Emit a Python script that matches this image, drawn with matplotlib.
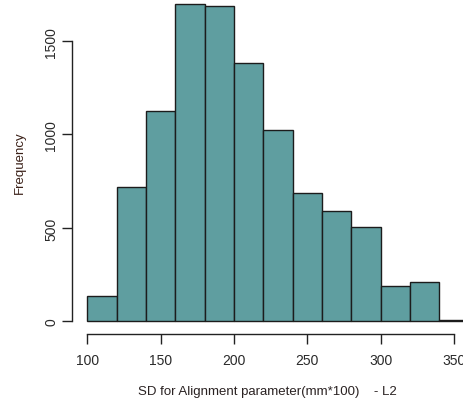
import matplotlib
matplotlib.use("Agg")
import matplotlib.pyplot as plt
import numpy as np

# Histogram data (bin edges and counts)
bin_edges = [100, 120, 140, 160, 180, 200, 220, 240, 260, 280, 300, 320, 340, 360]
counts = [136, 721, 1127, 1700, 1686, 1384, 1025, 689, 588, 505, 189, 210, 5]
x_ticks = [100, 150, 200, 250, 300, 350]
y_ticks = [0, 500, 1000, 1500]
x_label = "SD for Alignment parameter(mm*100)    - L2"
y_label = "Frequency"

plt.rcParams['font.family'] = ['Liberation Sans', 'DejaVu Sans']

W, H = 463, 406
fig = plt.figure(figsize=(W / 100, H / 100), dpi=100)
ax = fig.add_axes([72 / W, 71 / H, 412 / W, 343 / H])

edges = np.array(bin_edges)
ax.bar(edges[:-1], counts, width=np.diff(edges), align='edge',
       color='#5F9EA0', edgecolor='#1c1c1c', linewidth=1.0)

ax.set_xlim(89.6, 370.4)
ax.set_ylim(-68, 1768)

for s in ['top', 'right']:
    ax.spines[s].set_visible(False)
ax.spines['bottom'].set_bounds(100, 350)
ax.spines['left'].set_bounds(0, 1500)
for s in ['bottom', 'left']:
    ax.spines[s].set_linewidth(1.0)
    ax.spines[s].set_color('#222222')

ax.set_xticks(x_ticks)
ax.set_xticklabels([str(v) for v in x_ticks])
ax.set_yticks(y_ticks)
ax.set_yticklabels([str(v) for v in y_ticks], rotation=90, va='center')
ax.tick_params(axis='both', length=7, width=1.0, color='#222222',
               labelsize=10, labelcolor='#2a2a2a')
ax.tick_params(axis='x', pad=7)
ax.tick_params(axis='y', pad=3)

fig.text(267.5 / W, 1 - 392 / H, x_label, ha='center', va='center',
         fontsize=9.5, color='#2a2222')
fig.text(20 / W, 1 - 163 / H, y_label, ha='center', va='center',
         rotation=90, fontsize=9.5, color='#3a2018')

fig.savefig('out.png', dpi=100)
